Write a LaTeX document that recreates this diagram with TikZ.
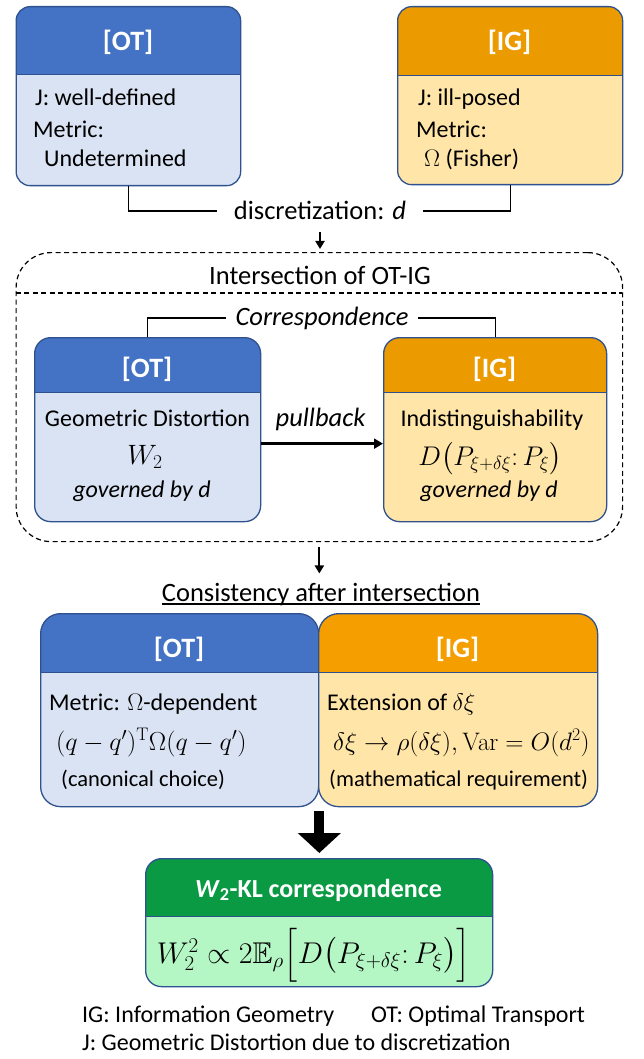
\RequirePackage{fix-cm}
\documentclass[tikz,border=0pt]{standalone}
\usepackage{amsmath,amssymb}
\usepackage[no-math]{fontspec}
\setmainfont{Carlito}
\usetikzlibrary{arrows.meta}
\definecolor{otdark}{HTML}{4472C4}
\definecolor{otlight}{HTML}{DAE3F3}
\definecolor{igdark}{HTML}{EB9A00}
\definecolor{igdarkB}{HTML}{F59E00}
\definecolor{iglight}{HTML}{FFE6A8}
\definecolor{gdark}{HTML}{0A9A44}
\definecolor{glight}{HTML}{B4F7C4}
\definecolor{bord}{HTML}{2F528F}
\tikzset{
  card/.style n args={4}{draw=bord, line width=1.3pt, rounded corners=#4, fill=#1,
    inner sep=0pt, anchor=north west,
    path picture={
      \fill[#2, sharp corners] (path picture bounding box.north west) rectangle ([yshift=-#3]path picture bounding box.north east);
      \draw[bord, line width=1.3pt, sharp corners] ([yshift=-#3]path picture bounding box.north west) -- ([yshift=-#3]path picture bounding box.north east);}},
  dbox/.style={draw=black, line width=1.2pt, dash pattern=on 5pt off 3.5pt, rounded corners=35pt, inner sep=0pt, anchor=north west},
  dline/.style={draw=black, line width=1.2pt, dash pattern=on 5pt off 3.5pt},
  hdr/.style={inner sep=0pt, anchor=base, text=white, font=\fontsize{28}{32}\selectfont\bfseries},
  hdrg/.style={inner sep=0pt, anchor=base, text=white, font=\fontsize{26}{30}\selectfont\bfseries},
  bt/.style={inner sep=0pt, anchor=base west, font=\fontsize{24}{28}\selectfont},
  bts/.style={inner sep=0pt, anchor=base west, font=\fontsize{22.5}{26}\selectfont},
  ct/.style={inner sep=0pt, anchor=base, font=\fontsize{24}{28}\selectfont},
  mth/.style={inner sep=0pt, font=\fontsize{26}{30}\selectfont},
  big/.style={inner sep=0pt, anchor=base, font=\fontsize{26.5}{30}\selectfont},
  br/.style={draw=black, line width=1.2pt},
  sarrow/.style={draw=black, line width=2pt, -{Triangle[length=8pt,width=9pt]}},
  pull/.style={draw=black, line width=2.4pt, -{Triangle[length=9pt,width=10pt]}},
  bigarr/.style={draw=black, line width=10pt, -{Triangle[length=20pt,width=42pt]}},
}
\begin{document}
\begin{tikzpicture}[x=1pt,y=-1pt]
\fill[white] (0,0) rectangle (643,1059);
\useasboundingbox (0,0) rectangle (643,1059);

% ---------- top row ----------
\node[card={otlight}{otdark}{68pt}{14pt}, minimum width=224.5pt, minimum height=179pt] (ot1) at (15.5,6) {};
\node[card={iglight}{igdark}{69pt}{14pt}, minimum width=225pt, minimum height=178pt] (ig1) at (397,6) {};
\node[hdr] (ot1h) at (128,51) {[OT]};
\node[bt] (ot1a) at (35,106) {J: well-defined};
\node[bt] (ot1b) at (33,138) {Metric:};
\node[bt] (ot1c) at (44,167) {Undetermined};
\node[hdr] (ig1h) at (509.5,51) {[IG]};
\node[bt] (ig1a) at (418,106) {J: ill-posed};
\node[bt] (ig1b) at (416,138) {Metric:};
\node[bt] (ig1c) at (424,167) {$\Omega$ (Fisher)};

\node[big, inner xsep=17pt] (disc) at (320,220) {discretization: \textit{d}};
\draw[br] (ot1.south) |- (disc.west);
\draw[br] (ig1.south) |- (disc.east);

% ---------- intersection ----------
\node[dbox, minimum width=606.5pt, minimum height=289pt] (inter) at (15.5,252) {};
\draw[sarrow, shorten <=12pt, shorten >=3pt] (disc.south) -- (disc.south |- inter.north);
\node[big] (intt) at (320,284) {Intersection of OT-IG};
\coordinate (dl) at (15.5,293);
\coordinate (dr) at (622,293);
\draw[dline] (dl) -- (dr);

\node[card={otlight}{otdark}{55pt}{16pt}, minimum width=226pt, minimum height=184pt] (ot2) at (34,337) {};
\node[card={iglight}{igdark}{55pt}{16pt}, minimum width=223pt, minimum height=184pt] (ig2) at (383,337) {};
\node[big, font=\fontsize{26.5}{30}\selectfont\itshape, inner xsep=9pt] (corr) at (322,325) {Correspondence};
\draw[br] (ot2.north) |- (corr.west);
\draw[br] (ig2.north) |- (corr.east);

\node[hdr] (ot2h) at (147,377) {[OT]};
\node[ct] (ot2a) at (147.5,426) {Geometric Distortion};
\node[mth, anchor=base, font=\fontsize{28}{32}\selectfont] (ot2b) at (145,464) {$W_2$};
\node[ct, font=\fontsize{24}{28}\selectfont\itshape] (ot2c) at (142,497) {governed by d};
\node[hdr] (ig2h) at (494.5,377) {[IG]};
\node[ct] (ig2a) at (492,426) {Indistinguishability};
\node[mth, anchor=base, font=\fontsize{27}{30}\selectfont] (ig2b) at (490,465) {$D\bigl(P_{\xi+\delta\xi}{:}\,P_\xi\bigr)$};
\node[ct, font=\fontsize{24}{28}\selectfont\itshape] (ig2c) at (489,497) {governed by d};

\draw[pull] ([yshift=-14pt]ot2.east) -- ([yshift=-14pt]ig2.west);
\node[big, font=\fontsize{26.5}{30}\selectfont\itshape] (pb) at (320.5,426) {pullback};

% ---------- consistency ----------
\node[big] (cons) at (321,601) {Consistency after intersection};
\draw[line width=1.2pt] ([yshift=-3pt]cons.base west) -- ([yshift=-3pt]cons.base east);
\draw[sarrow, shorten <=5pt, shorten >=9pt] (inter.south) -- (inter.south |- cons.north);

\node[card={otlight}{otdark}{59pt}{20pt}, minimum width=278pt, minimum height=193pt] (ot3) at (40,613) {};
\node[card={iglight}{igdarkB}{59pt}{20pt}, minimum width=279pt, minimum height=193pt] (ig3) at (318,613) {};
\node[hdr] (ot3h) at (179,657) {[OT]};
\node[bt] (ot3a) at (49,710) {Metric: $\Omega$-dependent};
\node[mth, anchor=base west] (ot3b) at (56,750) {$(q-q')^{\mathrm{T}}\Omega(q-q')$};
\node[bts] (ot3c) at (61,786) {(canonical choice)};
\node[hdr] (ig3h) at (457.5,657) {[IG]};
\node[bt] (ig3a) at (327,710) {Extension of $\delta\xi$};
\node[mth, anchor=base west, font=\fontsize{25.3}{30}\selectfont] (ig3b) at (333,750) {$\delta\xi\to\rho(\delta\xi),\mathrm{Var}=O(d^2)$};
\node[bts] (ig3c) at (329,786) {(mathematical requirement)};

% ---------- result ----------
\node[card={glight}{gdark}{58pt}{16pt}, minimum width=347pt, minimum height=128pt] (g) at (145,858) {};
\draw[bigarr, shorten <=4pt, shorten >=5pt] (ot3.south east) -- (ot3.south east |- g.north);
\node[hdrg] (gh) at (318.5,897) {\textit{W}\textsubscript{2}-KL correspondence};
\node[mth, anchor=base, font=\fontsize{30}{34}\selectfont] (gf) at (314,963) {$W_2^2\propto 2\mathbb{E}_\rho\Bigl[D\bigl(P_{\xi+\delta\xi}{:}\,P_\xi\bigr)\Bigr]$};

% ---------- legend ----------
\node[bt] (l1) at (82,1022) {IG: Information Geometry};
\node[bt] (l2) at (371,1022) {OT: Optimal Transport};
\node[bt] (l3) at (82,1050) {J: Geometric Distortion due to discretization};
\end{tikzpicture}
\end{document}
